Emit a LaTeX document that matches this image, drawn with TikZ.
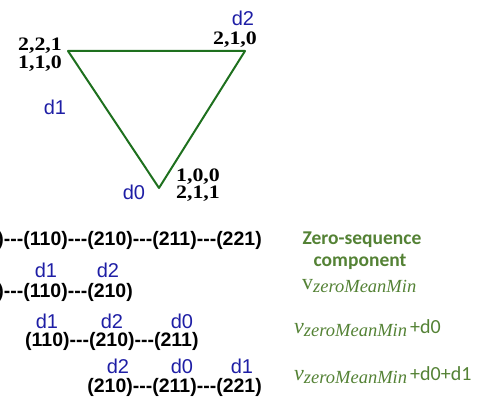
\documentclass[tikz,border=0pt]{standalone}
\usepackage{fontspec}
\setmainfont{Liberation Serif}
\newfontfamily\timesw[FakeStretch=1.15]{Liberation Serif}
\newfontfamily\arialf{Liberation Sans}
\newfontfamily\calib{Carlito}
\definecolor{tri}{RGB}{30,112,30}
\definecolor{dblue}{RGB}{30,30,165}
\definecolor{zgreen}{RGB}{84,130,53}
\newcommand{\vzmm}[1]{{\fontsize{22}{22}\selectfont#1}\raisebox{-0.3em}{\fontsize{18.5}{18.5}\selectfont\itshape zeroMeanMin}}
\tikzset{
 vlab/.style={font=\timesw\fontsize{19}{19}\selectfont\bfseries, inner sep=0pt},
 dlab/.style={font=\arialf\fontsize{20}{20}\selectfont, text=dblue, inner sep=0pt},
 seq/.style={font=\arialf\bfseries\fontsize{19.5}{19.5}\selectfont, inner sep=0pt},
 ztitle/.style={font=\calib\bfseries\fontsize{19.5}{19.5}\selectfont, text=zgreen, inner sep=0pt},
 zform/.style={font=\calib\fontsize{20}{20}\selectfont, text=zgreen, inner sep=0pt, anchor=base west},
 zmath/.style={text=zgreen, inner sep=0pt, anchor=base west},
 triedge/.style={draw=tri, line width=2pt, line join=round}
}
\begin{document}
\begin{tikzpicture}[x=1pt,y=-1pt]
\useasboundingbox (0,0) rectangle (488,404);
% triangle
\coordinate (A) at (68,51);
\coordinate (B) at (245,51);
\coordinate (C) at (159,188);
\draw[triedge] (A) -- (B) -- (C) -- cycle;
% vertex labels
\node[vlab] (a1) at (40,45.5) {2,2,1};
\node[vlab] (a2) at (40,63.5) {1,1,0};
\node[vlab] (b1) at (235,40) {2,1,0};
\node[vlab] (c1) at (198,176.5) {1,0,0};
\node[vlab] (c2) at (198,194) {2,1,1};
\node[dlab] (dB) at (243,18) {d2};
\node[dlab] (dA) at (55,107) {d1};
\node[dlab] (dC) at (134,192) {d0};
% sequences
\node[seq, anchor=east] (r1) at (262,240) {)---(110)---(210)---(211)---(221)};
\node[dlab] (r2a) at (46,270) {d1};
\node[dlab] (r2b) at (108,270) {d2};
\node[seq, anchor=east] (r2) at (133,292) {)---(110)---(210)};
\node[dlab] (r3a) at (47,321) {d1};
\node[dlab] (r3b) at (112,321) {d2};
\node[dlab] (r3c) at (182,321) {d0};
\node[seq, anchor=west] (r3) at (25,341) {(110)---(210)---(211)};
\node[dlab] (r4a) at (118,366) {d2};
\node[dlab] (r4b) at (182,366) {d0};
\node[dlab] (r4c) at (242,366) {d1};
\node[seq, anchor=east] (r4) at (262,387) {(210)---(211)---(221)};
% zero-sequence column
\node[ztitle] (t1) at (362,240) {Zero-sequence};
\node[ztitle] (t2) at (360,262) {component};
\node[zmath] (m1) at (302,289) {\vzmm{v}};
\node[zmath] (m2) at (294,333) {\vzmm{\itshape v}};
\node[zform] (p2) at (410,333) {+d0};
\node[zmath] (m3) at (294,380) {\vzmm{\itshape v}};
\node[zform] (p3) at (410,380) {+d0+d1};
\end{tikzpicture}
\end{document}
